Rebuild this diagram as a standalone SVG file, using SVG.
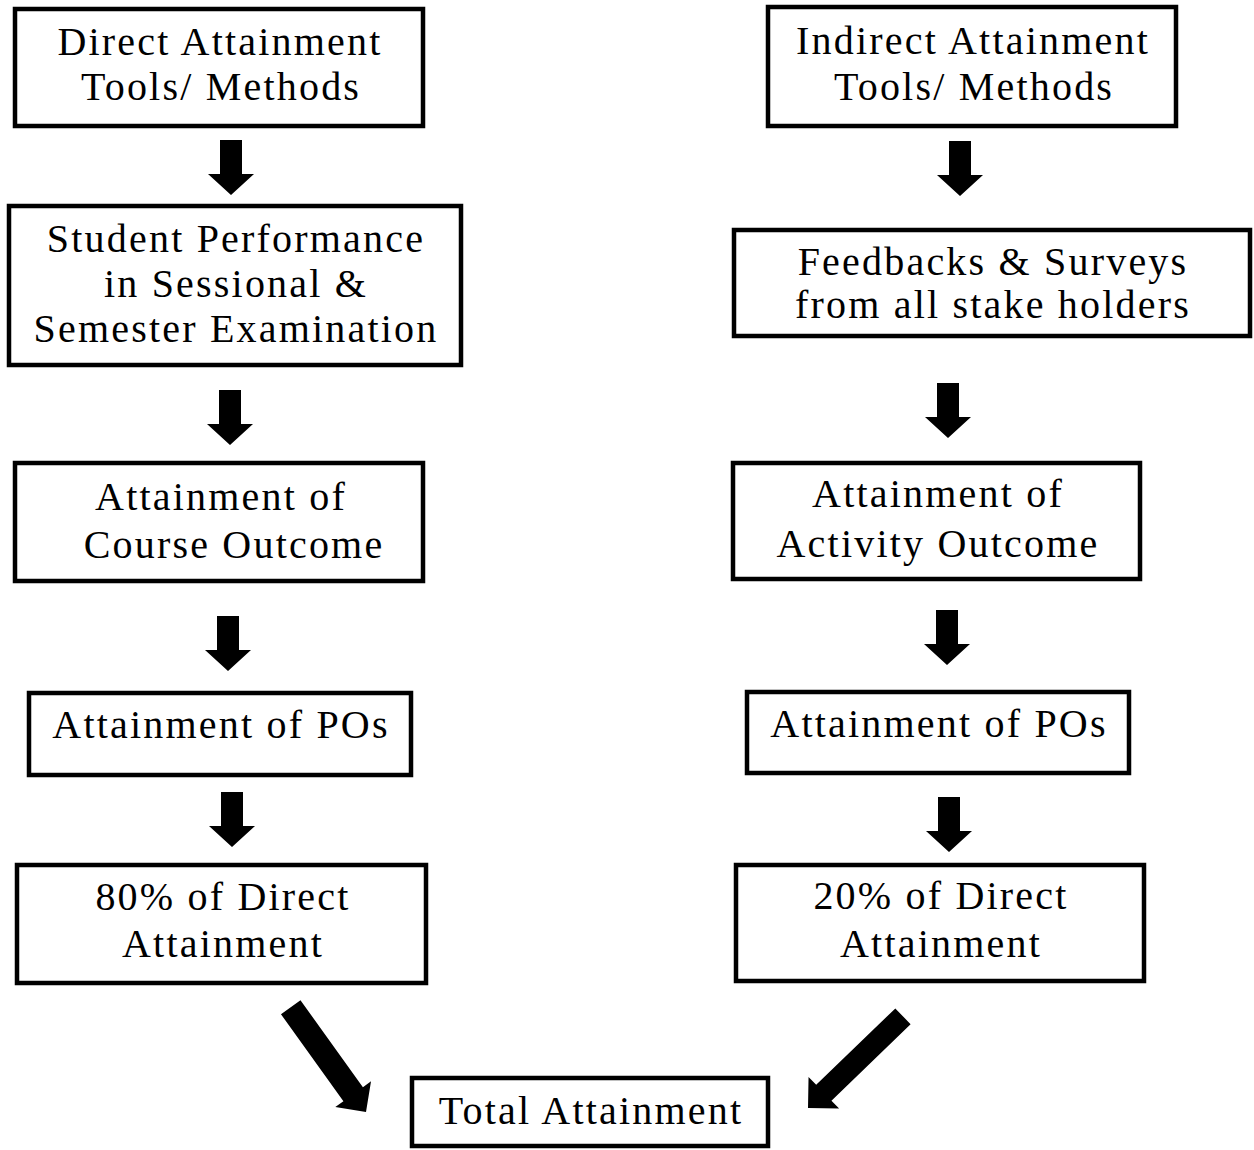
<svg xmlns="http://www.w3.org/2000/svg" xmlns:xlink="http://www.w3.org/1999/xlink" width="1254" height="1150" viewBox="0 0 1254 1150">
<style>
.box{fill:#fff;stroke:#000;stroke-width:4.5}
.t{font-family:'Liberation Serif','Times New Roman',serif;font-size:40px;letter-spacing:2.2px;text-anchor:middle;fill:#000}
.arr{fill:#000}
</style>
<defs>
<path id="down" d="M-11,-55 H11 V-21 H23 L0,0 L-23,-21 H-11 Z"/>
</defs>
<rect width="1254" height="1150" fill="#fff"/>
<g id="n-direct-tools">
<rect class="box" x="15" y="9" width="408" height="117"/>
<text class="t" x="220" y="55">Direct Attainment</text>
<text class="t" x="221" y="100">Tools/ Methods</text>
</g>
<g id="n-student-perf">
<rect class="box" x="9" y="206" width="452" height="159"/>
<text class="t" x="236" y="252">Student Performance</text>
<text class="t" x="236" y="297">in Sessional &amp;</text>
<text class="t" x="236" y="342">Semester Examination</text>
</g>
<g id="n-course-outcome">
<rect class="box" x="15" y="463" width="408" height="118"/>
<text class="t" x="221" y="510">Attainment of</text>
<text class="t" x="234" y="558">Course Outcome</text>
</g>
<g id="n-po-left">
<rect class="box" x="29" y="693" width="382" height="82"/>
<text class="t" x="221" y="738">Attainment of POs</text>
</g>
<g id="n-80">
<rect class="box" x="17" y="865" width="409" height="118"/>
<text class="t" x="223" y="910">80% of Direct</text>
<text class="t" x="223" y="957">Attainment</text>
</g>
<g id="n-indirect-tools">
<rect class="box" x="768" y="7" width="408" height="119"/>
<text class="t" x="973" y="54">Indirect Attainment</text>
<text class="t" x="974" y="100">Tools/ Methods</text>
</g>
<g id="n-feedbacks">
<rect class="box" x="734" y="230" width="516" height="106"/>
<text class="t" x="993" y="275">Feedbacks &amp; Surveys</text>
<text class="t" x="993" y="318">from all stake holders</text>
</g>
<g id="n-activity-outcome">
<rect class="box" x="733" y="463" width="407" height="116"/>
<text class="t" x="938" y="507">Attainment of</text>
<text class="t" x="938" y="557">Activity Outcome</text>
</g>
<g id="n-po-right">
<rect class="box" x="747" y="692" width="382" height="81"/>
<text class="t" x="939" y="737">Attainment of POs</text>
</g>
<g id="n-20">
<rect class="box" x="736" y="865" width="408" height="116"/>
<text class="t" x="941" y="909">20% of Direct</text>
<text class="t" x="941" y="957">Attainment</text>
</g>
<g id="n-total">
<rect class="box" x="412" y="1078" width="356" height="68"/>
<text class="t" x="591" y="1124">Total Attainment</text>
</g>
<g id="connectors" class="arr">
<use xlink:href="#down" href="#down" x="231" y="195"/>
<use xlink:href="#down" href="#down" x="230" y="445"/>
<use xlink:href="#down" href="#down" x="228" y="671"/>
<use xlink:href="#down" href="#down" x="232" y="847"/>
<use xlink:href="#down" href="#down" x="960" y="196"/>
<use xlink:href="#down" href="#down" x="948" y="438"/>
<use xlink:href="#down" href="#down" x="947" y="665"/>
<use xlink:href="#down" href="#down" x="949" y="852"/>
<path d="M-12,-129 H12 V-22 H22 L0,0 L-22,-22 H-12 Z" transform="translate(366,1112) rotate(-35.7)"/>
<path d="M-11,-132 H11 V-22 H22 L0,0 L-22,-22 H-11 Z" transform="translate(808,1108) rotate(46)"/>
</g>
</svg>
